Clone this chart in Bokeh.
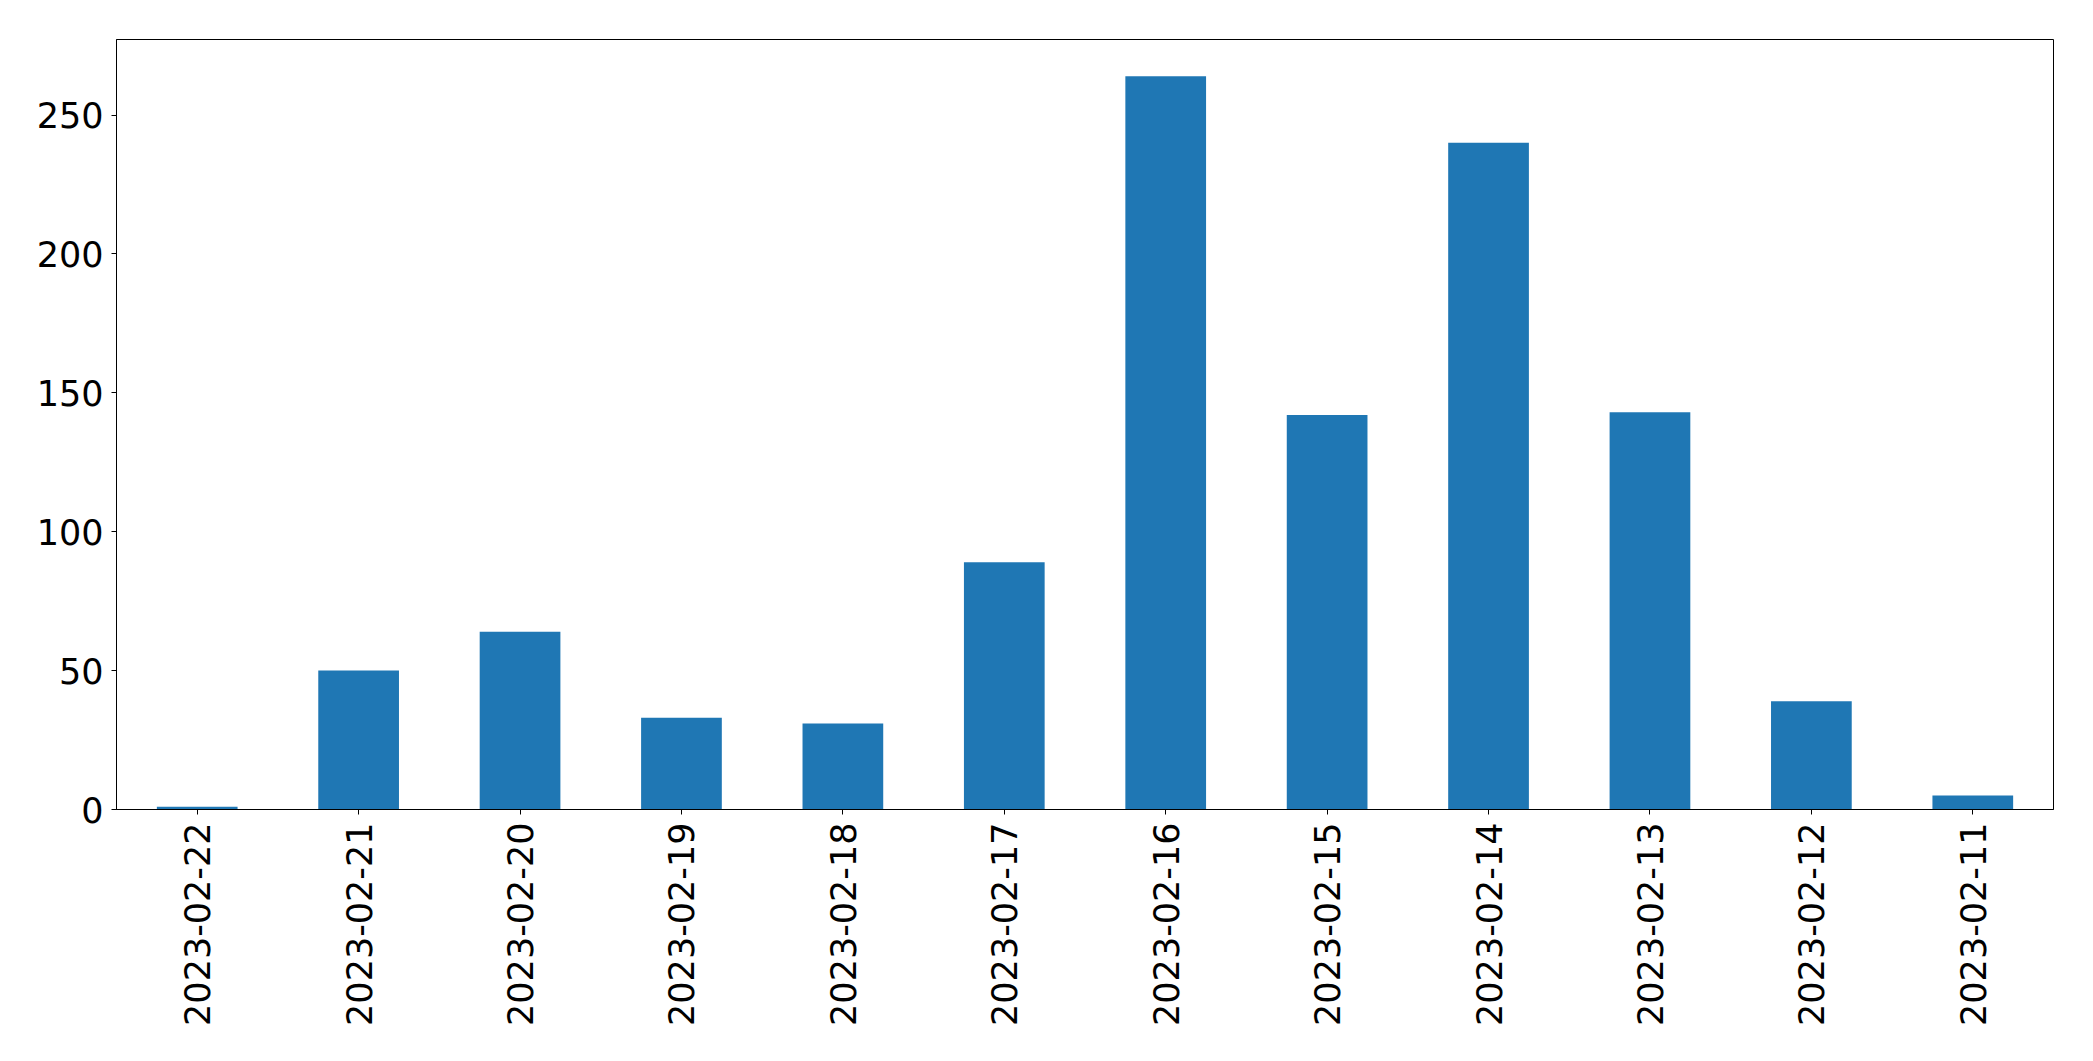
import math
from bokeh.plotting import figure
from bokeh.models import ColumnDataSource, FactorRange, Range1d, FixedTicker
from bokeh.embed import file_html
from bokeh.resources import INLINE

dates = ["2023-02-22", "2023-02-21", "2023-02-20", "2023-02-19", "2023-02-18",
         "2023-02-17", "2023-02-16", "2023-02-15", "2023-02-14", "2023-02-13",
         "2023-02-12", "2023-02-11"]
counts = [1, 50, 64, 33, 31, 89, 264, 142, 240, 143, 39, 5]
y_ticks = [0, 50, 100, 150, 200, 250]

source = ColumnDataSource(data=dict(dates=dates, counts=counts))

p = figure(
    x_range=FactorRange(*dates),
    y_range=Range1d(0, max(counts) * 1.05),
    width=2077, height=1045,
    output_backend="svg", toolbar_location=None,
    min_border_left=116, min_border_right=24,
    min_border_top=39, min_border_bottom=236,
)

p.vbar(x="dates", top="counts", width=0.5, source=source,
       fill_color="#1f77b4", line_color=None)

p.xgrid.visible = False
p.ygrid.visible = False
p.outline_line_color = "black"
p.outline_line_width = 1
p.outline_line_alpha = 1.0
p.background_fill_color = "white"
p.border_fill_color = "white"

font = "DejaVu Sans"
for ax in (p.xaxis[0], p.yaxis[0]):
    ax.axis_line_color = "black"
    ax.major_tick_line_color = "black"
    ax.major_tick_out = 5
    ax.major_tick_in = 0
    ax.minor_tick_line_color = None
    ax.major_label_text_font = font
    ax.major_label_text_font_size = "35px"
    ax.major_label_text_color = "black"
    ax.major_label_standoff = 8

p.yaxis[0].ticker = FixedTicker(ticks=y_ticks)
p.xaxis[0].major_label_orientation = math.pi / 2
p.xaxis[0].group_text_font_size = "0px"

open("out.html", "w").write(file_html(p, INLINE))
